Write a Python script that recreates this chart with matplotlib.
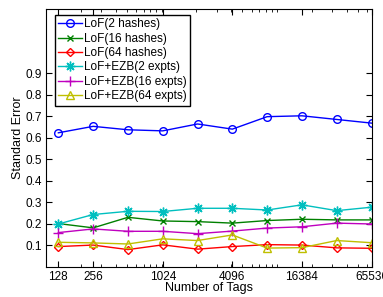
import numpy as np
import matplotlib.pyplot as plt
from matplotlib.ticker import FixedLocator, LogLocator, NullFormatter

plt.rcParams['font.family'] = ['Liberation Sans', 'DejaVu Sans']

tags = [128, 256, 512, 1024, 2048, 4096, 8192, 16384, 32768, 65536]
tick_tags = [128, 256, 1024, 4096, 16384, 65536]

lof_2 = [0.624, 0.654, 0.638, 0.633, 0.665, 0.641, 0.699, 0.703, 0.686, 0.669]
lof_16 = [0.202, 0.182, 0.231, 0.214, 0.211, 0.204, 0.216, 0.222, 0.219, 0.219]
lof_64 = [0.095, 0.102, 0.081, 0.103, 0.083, 0.095, 0.104, 0.102, 0.089, 0.087]
ezb_2 = [0.200, 0.244, 0.259, 0.258, 0.273, 0.273, 0.265, 0.289, 0.262, 0.278]
ezb_16 = [0.160, 0.177, 0.166, 0.166, 0.155, 0.167, 0.181, 0.187, 0.204, 0.200]
ezb_64 = [0.115, 0.112, 0.107, 0.131, 0.123, 0.149, 0.088, 0.090, 0.123, 0.113]

fig = plt.figure(figsize=(3.83, 2.97), dpi=100)
ax = fig.add_axes([0.120, 0.101, 0.851, 0.869])

series = [
    (lof_2, 'LoF(2 hashes)', '#0000ff', 'o', 5.5),
    (lof_16, 'LoF(16 hashes)', '#008000', 'x', 5),
    (lof_64, 'LoF(64 hashes)', '#ff0000', 'D', 4.5),
    (ezb_2, 'LoF+EZB(2 expts)', '#00bfbf', (8, 2, 0), 7),
    (ezb_16, 'LoF+EZB(16 expts)', '#bf00bf', '+', 6.5),
    (ezb_64, 'LoF+EZB(64 expts)', '#bfbf00', '^', 6),
]
for vals, lab, col, mk, ms in series:
    ax.plot(tags, vals, color=col, marker=mk, markerfacecolor='none',
            markeredgecolor=col, markersize=ms, markeredgewidth=1.0,
            linewidth=1.0, label=lab)

ax.set_xscale('log', base=2)
ax.set_xlim(100, 66000)
ax.set_ylim(0, 1.2)
ax.xaxis.set_major_locator(FixedLocator(tick_tags))
ax.set_xticklabels([str(t) for t in tick_tags])
ax.xaxis.set_minor_locator(LogLocator(base=10, subs=np.arange(1, 10)))
ax.xaxis.set_minor_formatter(NullFormatter())
ax.set_yticks(np.arange(0.1, 0.95, 0.1))
ax.set_yticklabels(['%.1f' % v for v in np.arange(0.1, 0.95, 0.1)])
ax.tick_params(which='both', direction='in', top=True, right=True,
               labelsize=8.5, pad=3)
ax.tick_params(which='major', length=4)
ax.tick_params(which='minor', length=2)
ax.set_xlabel('Number of Tags', fontsize=9, labelpad=-1)
ax.set_ylabel('Standard Error', fontsize=9, labelpad=1)

ax.legend(loc='upper left', bbox_to_anchor=(0.027, 0.977), fontsize=8.5,
          fancybox=False, edgecolor='black', framealpha=1,
          handlelength=2.0, handletextpad=0.15, labelspacing=0.2,
          borderpad=0.3, borderaxespad=0)

fig.savefig('out.png', dpi=100)
